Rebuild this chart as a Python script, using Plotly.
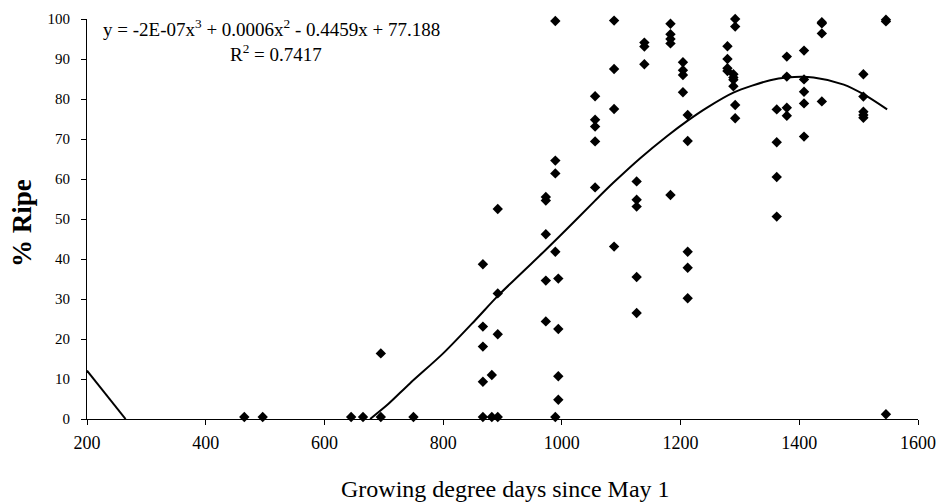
import plotly.graph_objects as go

# Growing degree days (x) and % ripe (y)
gdd = [465, 496, 645, 665, 695, 695, 750,
       867, 867, 867, 867, 867,
       882, 882,
       892, 892, 892, 892,
       973, 973, 973, 973, 973,
       989, 989, 989, 989, 989,
       994, 994, 994, 994,
       1056, 1056, 1056, 1056, 1056,
       1088, 1088, 1088, 1088, 1088,
       1126, 1126, 1126, 1126, 1126,
       1139, 1139, 1139,
       1183, 1183, 1183, 1183, 1183,
       1204, 1204, 1204, 1204,
       1212, 1212, 1212, 1212, 1212,
       1279, 1279, 1279, 1279,
       1289, 1289, 1289, 1289,
       1292, 1292, 1292, 1292, 1292,
       1362, 1362, 1362, 1362,
       1379, 1379, 1379, 1379,
       1408, 1408, 1408, 1408, 1408,
       1438, 1438, 1438, 1438,
       1508, 1508, 1508, 1508, 1508,
       1546, 1546, 1546]
ripe = [0.5, 0.5, 0.5, 0.5, 0.5, 16.4, 0.5,
        0.5, 9.3, 18.1, 23.1, 38.7,
        0.5, 11.0,
        0.5, 21.2, 31.4, 52.5,
        24.4, 34.6, 46.2, 54.6, 55.5,
        0.5, 41.8, 61.4, 64.6, 99.5,
        4.8, 10.7, 22.5, 35.1,
        57.9, 69.4, 73.1, 74.8, 80.7,
        43.1, 77.5, 87.5, 99.6, 100.4,
        26.5, 35.5, 53.1, 54.8, 59.4,
        88.7, 93.1, 94.1,
        56.0, 93.9, 95.0, 96.2, 98.8,
        81.7, 86.0, 87.2, 89.2,
        30.2, 37.8, 41.8, 69.5, 76.0,
        87.0, 87.7, 90.0, 93.2,
        83.2, 84.8, 85.4, 86.2,
        75.2, 78.5, 98.1, 100.0, 100.5,
        50.6, 60.5, 69.2, 77.4,
        75.8, 77.8, 85.6, 90.6,
        70.6, 78.9, 81.8, 84.9, 92.1,
        79.4, 96.4, 98.9, 99.2,
        75.3, 76.0, 76.8, 80.6, 86.2,
        1.2, 99.4, 99.8]

# polynomial trendline as drawn in the reference
trend_left_x = [200, 265]
trend_left_y = [12.1, 0.0]
trend_x = [677, 708, 744, 800, 854, 893, 973, 997, 1056, 1087, 1132, 1177,
           1212, 1244, 1289, 1351, 1379, 1424, 1475, 1508, 1548]
trend_y = [0.0, 3.8, 8.9, 16.4, 24.7, 30.9, 42.3, 45.8, 54.6, 59.1, 65.2, 70.7,
           74.6, 77.8, 81.6, 84.7, 85.4, 85.4, 83.6, 81.2, 77.4]

x_ticks = [200, 400, 600, 800, 1000, 1200, 1400, 1600]
y_ticks = [0, 10, 20, 30, 40, 50, 60, 70, 80, 90, 100]
equation = "y = -2E-07x<sup>3</sup> + 0.0006x<sup>2</sup> - 0.4459x + 77.188"
r2_text = "R<sup>2</sup> = 0.7417"

FONT = "Liberation Serif, Times New Roman, serif"

fig = go.Figure()
fig.add_trace(go.Scatter(x=trend_left_x, y=trend_left_y, mode="lines",
                         line=dict(color="black", width=2), hoverinfo="skip"))
fig.add_trace(go.Scatter(x=trend_x, y=trend_y, mode="lines",
                         line=dict(color="black", width=2, shape="spline",
                                   smoothing=0.8),
                         hoverinfo="skip"))
fig.add_trace(go.Scatter(x=gdd, y=ripe, mode="markers",
                         marker=dict(symbol="diamond", size=8, color="black"),
                         cliponaxis=False))

fig.update_layout(
    width=942, height=504,
    margin=dict(l=87, r=24, t=19, b=85, autoexpand=False),
    paper_bgcolor="white", plot_bgcolor="white",
    showlegend=False,
    font=dict(family=FONT, size=15, color="black"),
    xaxis=dict(range=[200, 1600], tickvals=x_ticks, ticks="outside", ticklen=5,
               tickcolor="black", showgrid=False, zeroline=False,
               showline=True, linecolor="black", linewidth=1,
               ticklabelstandoff=2, automargin=False,
               tickfont=dict(family=FONT, size=18)),
    yaxis=dict(range=[0, 100], tickvals=y_ticks, ticks="outside", ticklen=5,
               tickcolor="black", showgrid=False, zeroline=False,
               showline=True, linecolor="black", linewidth=1,
               ticklabelstandoff=8, automargin=False,
               tickfont=dict(family=FONT, size=15)),
    annotations=[
        dict(text=equation, xref="paper", yref="paper", x=(271 - 87) / 831,
             y=(419 - 28) / 400, xanchor="center", yanchor="middle",
             showarrow=False, font=dict(family=FONT, size=19)),
        dict(text=r2_text, xref="paper", yref="paper", x=(276 - 87) / 831,
             y=(419 - 53) / 400, xanchor="center", yanchor="middle",
             showarrow=False, font=dict(family=FONT, size=19)),
        dict(text="Growing degree days since May 1", xref="paper", yref="paper",
             x=(505 - 87) / 831, y=(419 - 489) / 400, xanchor="center",
             yanchor="middle", showarrow=False, font=dict(family=FONT, size=24)),
        dict(text="<b>% Ripe</b>", xref="paper", yref="paper",
             x=(22 - 87) / 831, y=(419 - 223) / 400, xanchor="center",
             yanchor="middle", textangle=-90, showarrow=False,
             font=dict(family=FONT, size=27)),
    ],
)

fig.write_html("out.html")
